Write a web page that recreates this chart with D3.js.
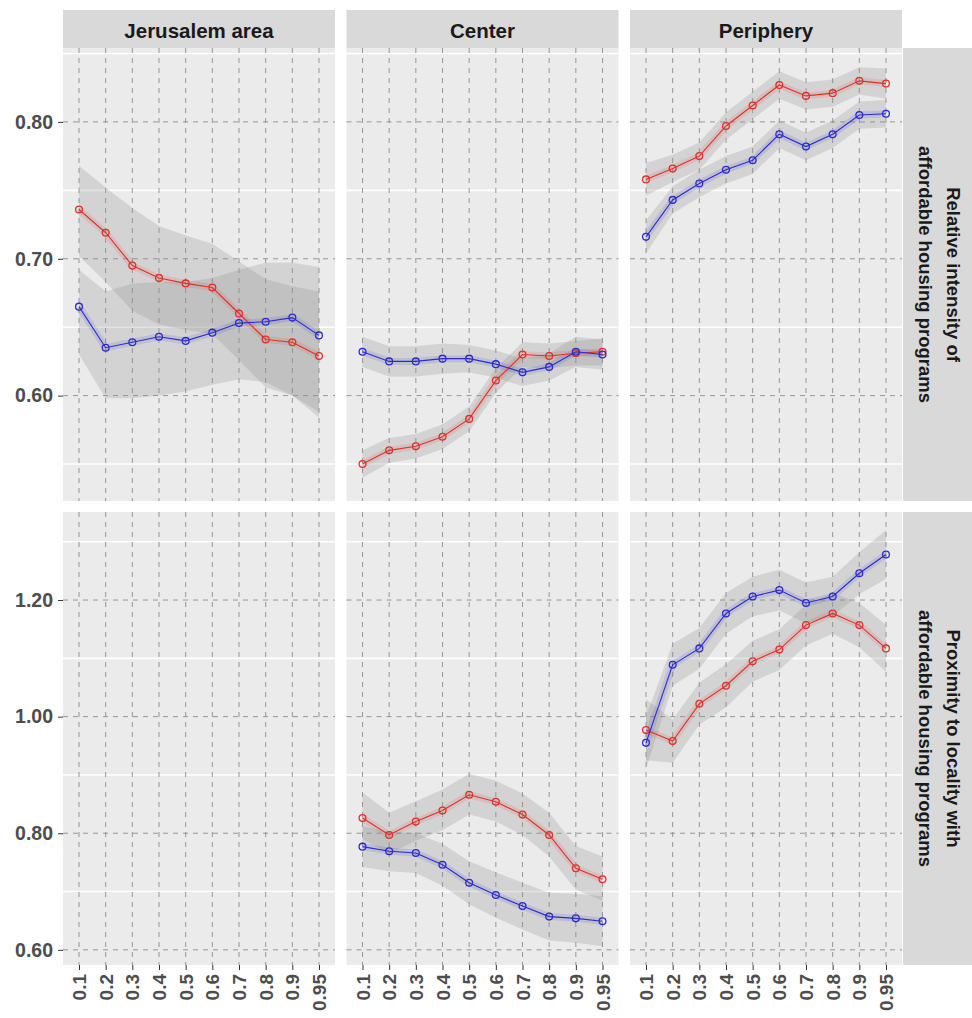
<!DOCTYPE html>
<html>
<head>
<meta charset="utf-8">
<script src="https://cdn.jsdelivr.net/npm/d3@7"></script>
<style>
  html, body { margin: 0; padding: 0; background: #ffffff; }
  svg { display: block; }
</style>
</head>
<body>
<svg id="chart" width="972" height="1018"></svg>
<script>
// ---------------- data ----------------
const quantiles = ["0.1","0.2","0.3","0.4","0.5","0.6","0.7","0.8","0.9","0.95"];
const regions = ["Jerusalem area", "Center", "Periphery"];
const rowTitles = [
  ["Relative intensity of", "affordable housing programs"],
  ["Proximity to locality with", "affordable housing programs"]
];
const topTicks = [0.6, 0.7, 0.8];
const topMinor = [0.55, 0.65, 0.75, 0.85];
const bottomTicks = [0.6, 0.8, 1.0, 1.2];
const bottomMinor = [0.7, 0.9, 1.1, 1.3];

// Row 1: relative intensity
const intJerRed     = [0.736,0.719,0.695,0.686,0.682,0.679,0.660,0.641,0.639,0.629];
const intJerRedLo   = [0.702,0.683,0.662,0.652,0.648,0.645,0.626,0.606,0.600,0.588];
const intJerRedHi   = [0.768,0.752,0.737,0.724,0.717,0.711,0.698,0.685,0.680,0.676];
const intJerBlue    = [0.665,0.635,0.639,0.643,0.640,0.646,0.653,0.654,0.657,0.644];
const intJerBlueLo  = [0.630,0.598,0.598,0.600,0.603,0.608,0.612,0.610,0.600,0.584];
const intJerBlueHi  = [0.692,0.676,0.682,0.683,0.683,0.686,0.692,0.697,0.697,0.694];

const intCenRed     = [0.550,0.560,0.563,0.570,0.583,0.611,0.630,0.629,0.631,0.632];
const intCenRedLo   = [0.540,0.551,0.554,0.561,0.574,0.602,0.621,0.620,0.622,0.622];
const intCenRedHi   = [0.560,0.569,0.572,0.579,0.592,0.620,0.639,0.638,0.640,0.642];
const intCenBlue    = [0.632,0.625,0.625,0.627,0.627,0.623,0.617,0.621,0.632,0.630];
const intCenBlueLo  = [0.621,0.614,0.614,0.616,0.617,0.613,0.607,0.611,0.621,0.619];
const intCenBlueHi  = [0.643,0.636,0.636,0.638,0.637,0.633,0.627,0.631,0.643,0.641];

const intPerRed     = [0.758,0.766,0.775,0.797,0.812,0.827,0.819,0.821,0.830,0.828];
const intPerRedLo   = [0.746,0.756,0.765,0.787,0.802,0.817,0.809,0.811,0.820,0.817];
const intPerRedHi   = [0.770,0.776,0.785,0.807,0.822,0.837,0.829,0.831,0.840,0.839];
const intPerBlue    = [0.716,0.743,0.755,0.765,0.772,0.791,0.782,0.791,0.805,0.806];
const intPerBlueLo  = [0.704,0.733,0.745,0.755,0.762,0.781,0.772,0.781,0.795,0.796];
const intPerBlueHi  = [0.728,0.753,0.765,0.775,0.782,0.801,0.792,0.801,0.815,0.816];

// Row 2: proximity
const proCenRed     = [0.826,0.797,0.820,0.839,0.866,0.854,0.832,0.797,0.740,0.721];
const proCenRedLo   = [0.790,0.765,0.787,0.805,0.832,0.820,0.797,0.760,0.703,0.684];
const proCenRedHi   = [0.870,0.835,0.855,0.875,0.902,0.890,0.868,0.835,0.778,0.760];
const proCenBlue    = [0.777,0.769,0.766,0.746,0.715,0.694,0.675,0.657,0.654,0.649];
const proCenBlueLo  = [0.742,0.735,0.732,0.710,0.678,0.655,0.635,0.616,0.612,0.606];
const proCenBlueHi  = [0.812,0.803,0.800,0.782,0.752,0.733,0.715,0.698,0.696,0.692];

const proPerRed     = [0.977,0.958,1.022,1.053,1.095,1.115,1.157,1.177,1.157,1.117];
const proPerRedLo   = [0.925,0.921,0.986,1.016,1.060,1.080,1.122,1.142,1.119,1.077];
const proPerRedHi   = [1.030,0.995,1.058,1.090,1.130,1.150,1.192,1.212,1.195,1.157];
const proPerBlue    = [0.955,1.089,1.117,1.177,1.206,1.217,1.195,1.206,1.246,1.278];
const proPerBlueLo  = [0.910,1.053,1.082,1.142,1.172,1.182,1.160,1.172,1.210,1.236];
const proPerBlueHi  = [1.000,1.125,1.152,1.212,1.240,1.252,1.230,1.240,1.282,1.320];

const RED = "#e0302a", BLUE = "#2b2bd0";

// panel contents [row][col] -> list of series
const panels = [
  [
    [{m:intJerRed, lo:intJerRedLo, hi:intJerRedHi, c:RED}, {m:intJerBlue, lo:intJerBlueLo, hi:intJerBlueHi, c:BLUE}],
    [{m:intCenRed, lo:intCenRedLo, hi:intCenRedHi, c:RED}, {m:intCenBlue, lo:intCenBlueLo, hi:intCenBlueHi, c:BLUE}],
    [{m:intPerRed, lo:intPerRedLo, hi:intPerRedHi, c:RED}, {m:intPerBlue, lo:intPerBlueLo, hi:intPerBlueHi, c:BLUE}]
  ],
  [
    [],
    [{m:proCenRed, lo:proCenRedLo, hi:proCenRedHi, c:RED}, {m:proCenBlue, lo:proCenBlueLo, hi:proCenBlueHi, c:BLUE}],
    [{m:proPerRed, lo:proPerRedLo, hi:proPerRedHi, c:RED}, {m:proPerBlue, lo:proPerBlueLo, hi:proPerBlueHi, c:BLUE}]
  ]
];

// ---------------- layout ----------------
const svg = d3.select("#chart");
const colX = [63, 346.5, 630];
const panelW = 272;
const rowY = [48, 512];
const panelH = [453, 453];
const stripTop = 10;
const stripRightX = 903;
const stripRightW = 69;

const yScales = [
  d3.scaleLinear().domain([0.523, 0.854]).range([rowY[0] + panelH[0], rowY[0]]),
  d3.scaleLinear().domain([0.574, 1.351]).range([rowY[1] + panelH[1], rowY[1]])
];
const majors = [topTicks, bottomTicks];
const minors = [topMinor, bottomMinor];
const fmt = d3.format(".2f");

const FONT = "'Liberation Sans', Arial, sans-serif";

// top strips
regions.forEach((r, ci) => {
  svg.append("rect").attr("x", colX[ci]).attr("y", stripTop)
    .attr("width", panelW).attr("height", rowY[0] - stripTop).attr("fill", "#d9d9d9");
  svg.append("text").attr("x", colX[ci] + panelW / 2).attr("y", (stripTop + rowY[0]) / 2 + 1)
    .attr("text-anchor", "middle").attr("dominant-baseline", "central")
    .attr("font-family", FONT).attr("font-weight", "bold").attr("font-size", 20.5)
    .attr("fill", "#1a1a1a").text(r);
});

// right strips
rowTitles.forEach((lines, ri) => {
  svg.append("rect").attr("x", stripRightX).attr("y", rowY[ri])
    .attr("width", stripRightW).attr("height", panelH[ri]).attr("fill", "#d9d9d9");
  const cx = 939, cy = rowY[ri] + panelH[ri] / 2;
  const t = svg.append("text").attr("transform", `translate(${cx},${cy}) rotate(90)`)
    .attr("text-anchor", "middle")
    .attr("font-family", FONT).attr("font-weight", "bold").attr("font-size", 18.5)
    .attr("fill", "#1a1a1a");
  lines.forEach((ln, i) => {
    t.append("tspan").attr("x", 0).attr("y", i === 0 ? -14 : 14)
      .attr("dominant-baseline", "central").text(ln);
  });
});

// panels
for (let ri = 0; ri < 2; ri++) {
  const y = yScales[ri];
  for (let ci = 0; ci < 3; ci++) {
    const x = d3.scalePoint().domain(quantiles).range([colX[ci], colX[ci] + panelW]).padding(0.6);
    const g = svg.append("g");
    g.append("rect").attr("x", colX[ci]).attr("y", rowY[ri])
      .attr("width", panelW).attr("height", panelH[ri]).attr("fill", "#ebebeb");
    // minor white grid
    g.selectAll(".mn").data(minors[ri]).enter().append("line")
      .attr("x1", colX[ci]).attr("x2", colX[ci] + panelW)
      .attr("y1", d => y(d)).attr("y2", d => y(d))
      .attr("stroke", "#ffffff").attr("stroke-width", 1.6);
    // major dashed grid
    g.selectAll(".mj").data(majors[ri]).enter().append("line")
      .attr("x1", colX[ci]).attr("x2", colX[ci] + panelW)
      .attr("y1", d => y(d)).attr("y2", d => y(d))
      .attr("stroke", "#8c8c8c").attr("stroke-width", 0.9).attr("stroke-dasharray", "5,5");
    g.selectAll(".vx").data(quantiles).enter().append("line")
      .attr("x1", d => x(d)).attr("x2", d => x(d))
      .attr("y1", rowY[ri]).attr("y2", rowY[ri] + panelH[ri])
      .attr("stroke", "#8c8c8c").attr("stroke-width", 0.9).attr("stroke-dasharray", "5,5");

    const series = panels[ri][ci];
    const area = (s) => d3.area().x((d, i) => x(quantiles[i])).y0((d, i) => y(s.lo[i])).y1((d, i) => y(s.hi[i]));
    series.forEach(s => {
      g.append("path").datum(s.m).attr("d", area(s)).attr("fill", "#8f8f8f").attr("fill-opacity", 0.26);
    });
    const line = d3.line().x((d, i) => x(quantiles[i])).y(d => y(d));
    series.forEach(s => {
      g.append("path").datum(s.m).attr("d", line).attr("fill", "none")
        .attr("stroke", s.c).attr("stroke-opacity", 0.12).attr("stroke-width", 7);
    });
    series.forEach(s => {
      g.append("path").datum(s.m).attr("d", line).attr("fill", "none")
        .attr("stroke", s.c).attr("stroke-width", 1.1);
      g.selectAll(null).data(s.m).enter().append("circle")
        .attr("cx", (d, i) => x(quantiles[i])).attr("cy", d => y(d)).attr("r", 3.4)
        .attr("fill", "none").attr("stroke", s.c).attr("stroke-width", 1.3);
    });

    // y axis on first column
    if (ci === 0) {
      const ax = svg.append("g").attr("transform", `translate(${colX[0]},0)`)
        .call(d3.axisLeft(y).tickValues(majors[ri]).tickFormat(fmt).tickSize(5).tickPadding(5));
      ax.select(".domain").remove();
      ax.selectAll(".tick line").attr("stroke", "#333333");
      ax.selectAll(".tick text").attr("font-family", FONT).attr("font-weight", "bold")
        .attr("font-size", 19.5).attr("fill", "#4d4d4d");
    }
    // x axis on bottom row
    if (ri === 1) {
      const ax = svg.append("g").attr("transform", `translate(0,${rowY[1] + panelH[1]})`)
        .call(d3.axisBottom(x).tickSize(5).tickPadding(4));
      ax.select(".domain").remove();
      ax.selectAll(".tick line").attr("stroke", "#333333");
      ax.selectAll(".tick text").attr("font-family", FONT).attr("font-weight", "bold")
        .attr("font-size", 19).attr("fill", "#4d4d4d")
        .attr("transform", "rotate(-90)").attr("text-anchor", "end")
        .attr("x", -9).attr("y", 0).attr("dy", "0.35em");
    }
  }
}
</script>
</body>
</html>
